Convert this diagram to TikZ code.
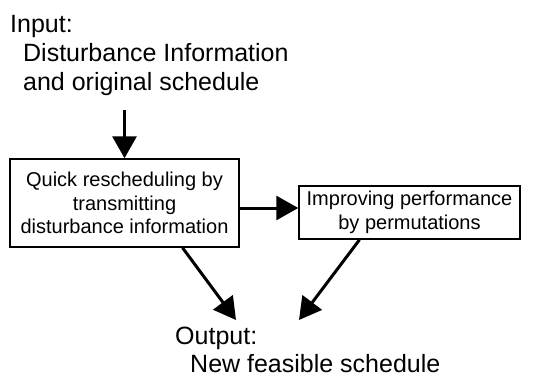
\documentclass[tikz,border=0pt]{standalone}
\usepackage{fontspec}
\setmainfont{Liberation Sans}
\usetikzlibrary{positioning}
\usetikzlibrary{arrows.meta}
\tikzset{proc box/.style={draw,line width=1.5pt,align=center,inner sep=0pt,font=\fontsize{20}{23.5}\selectfont},
  flow arrow/.style={-{Triangle[length=22pt,width=24pt]},line width=3pt},
  plain text/.style={align=left,inner sep=0pt,anchor=north west,font=\fontsize{25}{29}\selectfont},}

\begin{document}
\begin{tikzpicture}[x=1pt,y=-1pt]
      \useasboundingbox (0,0) rectangle (549,380);
      \node[plain text] (input) at (10,15) {Input:\\\hspace*{13pt}Disturbance Information\\\hspace*{13pt}and original schedule};
      \node[proc box,minimum width=229pt,minimum height=88pt] (quick) at (124.5,203) {Quick rescheduling by\\transmitting\\disturbance information};
      \node[proc box,minimum width=221pt,minimum height=53pt] (perm) at (409.5,212.5) {Improving performance\\by permutations};
      \node[plain text,font=\fontsize{25}{28}\selectfont] (output) at (175,327) {Output:\\\hspace*{15pt}New feasible schedule};

      \coordinate (in end) at (quick.north |- 0,110);
      \coordinate (tip a) at (236,320);
      \coordinate (tip b) at (299,320);

      \draw[flow arrow] (in end) -- (quick.north);
      \draw[flow arrow] ([yshift=4.5pt]quick.east |- perm.west) -- ([yshift=4.5pt]perm.west);
      \draw[flow arrow] ([xshift=58pt]quick.south) -- (tip a);
      \draw[flow arrow] ([xshift=-50pt]perm.south) -- (tip b);
    \end{tikzpicture}
\end{document}
